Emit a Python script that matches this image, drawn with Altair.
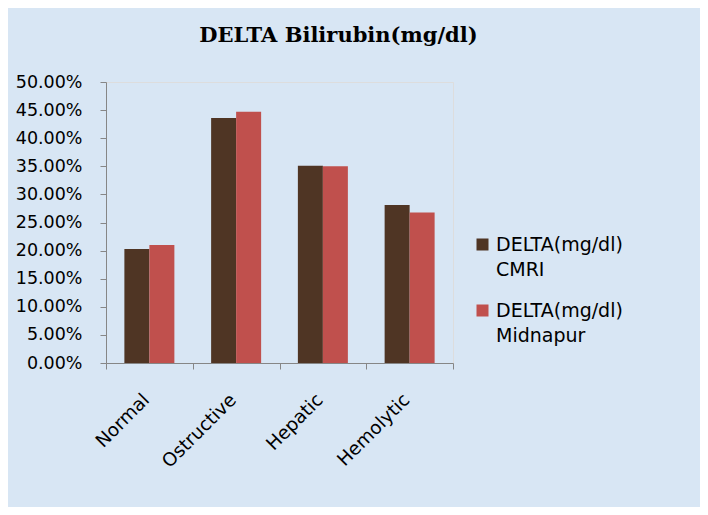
import altair as alt
import pandas as pd

categories = ["Normal", "Ostructive", "Hepatic", "Hemolytic"]
cmri = [0.203, 0.436, 0.351, 0.281]
midnapur = [0.210, 0.447, 0.350, 0.268]
series_names = ["DELTA(mg/dl) CMRI", "DELTA(mg/dl) Midnapur"]
colors = ["#4f3524", "#c0504d"]
y_ticks = [0.0, 0.05, 0.10, 0.15, 0.20, 0.25, 0.30, 0.35, 0.40, 0.45, 0.50]

rows = []
for i, c in enumerate(categories):
    rows.append({"category": c, "series": series_names[0], "value": cmri[i]})
    rows.append({"category": c, "series": series_names[1], "value": midnapur[i]})
df = pd.DataFrame(rows)

FONT = "DejaVu Sans"
GRAY = "#868686"

chart = alt.Chart(df).mark_bar().encode(
    x=alt.X(
        "category:N",
        sort=categories,
        scale=alt.Scale(paddingInner=0, paddingOuter=0),
        axis=alt.Axis(
            title=None, labelAngle=-45, labelAlign="right", labelBaseline="top",
            tickBand="extent", labelFont=FONT, labelOffset=-10,
            labelFontSize=18.5, labelColor="black", labelPadding=21,
            domainColor=GRAY, tickColor=GRAY, tickSize=6,
        ),
    ),
    xOffset=alt.XOffset("series:N", sort=series_names,
                        scale=alt.Scale(paddingInner=0, paddingOuter=0.735)),
    y=alt.Y(
        "value:Q",
        scale=alt.Scale(domain=[0, 0.5], nice=False),
        axis=alt.Axis(
            title=None, values=y_ticks, format=".2%", grid=False,
            labelFont=FONT, labelFontSize=17.5, labelColor="black",
            labelPadding=18, domainColor=GRAY, tickColor=GRAY, tickSize=6,
        ),
    ),
    color=alt.Color(
        "series:N",
        sort=series_names,
        scale=alt.Scale(domain=series_names, range=colors),
        legend=alt.Legend(
            title=None, orient="none", legendX=367, legendY=153,
            labelExpr="split(datum.label, ' ')",
            labelFont=FONT, labelFontSize=19, labelColor="black",
            symbolType="square", symbolSize=144, symbolStrokeWidth=0,
            labelOffset=4, rowPadding=21, padding=0,
        ),
    ),
).properties(
    width=347,
    height=281,
    title=alt.Title(
        "DELTA Bilirubin(mg/dl)", font="DejaVu Serif", fontSize=21,
        fontWeight="bold", color="black", anchor="middle", dx=59,
        offset=10, baseline="alphabetic",
    ),
    autosize=alt.AutoSizeParams(type="none"),
    padding={"left": 98, "top": 74, "right": 247, "bottom": 144},
    background="#d8e6f4",
).configure_view(
    fill="white", strokeWidth=0
).configure(
    style={"guide-label": {"lineHeight": 25}}
)

chart.save("out.html", embed_options={"renderer": "svg", "actions": False})
